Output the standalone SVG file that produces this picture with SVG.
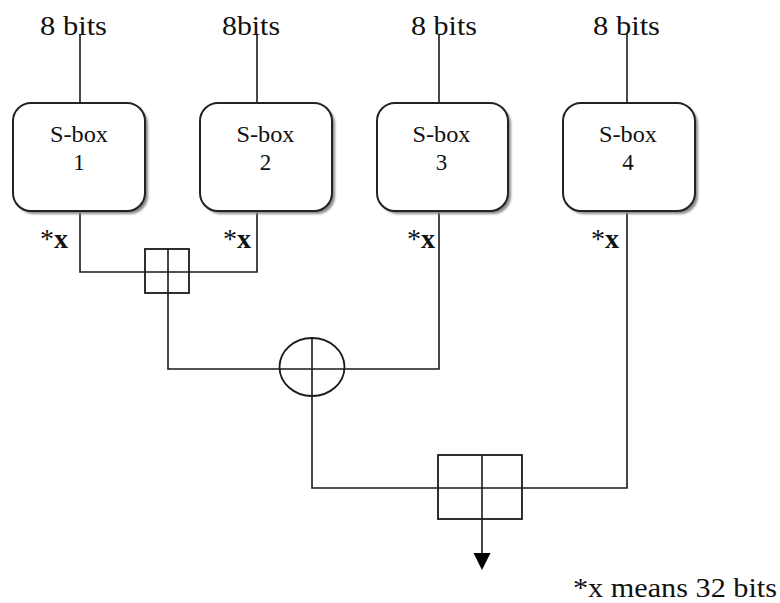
<svg xmlns="http://www.w3.org/2000/svg" width="780" height="603" viewBox="0 0 780 603">
  <defs>
    <style>
      text { font-family: 'Liberation Serif', serif; fill: #111; }
      .bits { font-size: 27px; }
      .sb { font-size: 23px; text-anchor: middle; }
      .star { font-size: 28px; }
      .wire { stroke: #1a1a1a; stroke-width: 1.6; fill: none; }
      .box { fill: #fff; stroke: #222; stroke-width: 2; }
      .shadow { fill: #8a8a8a; }
      .op { fill: none; stroke: #1a1a1a; stroke-width: 1.8; }
    </style>
    <filter id="soft" x="-10%" y="-10%" width="130%" height="130%">
      <feGaussianBlur stdDeviation="1"/>
    </filter>
  </defs>

  <rect width="780" height="603" fill="#fff"/>

  <!-- connectors -->
  <g id="connectors">
    <!-- inputs -->
    <line class="wire" x1="80" y1="34" x2="80" y2="103"/>
    <line class="wire" x1="257" y1="34" x2="257" y2="103"/>
    <line class="wire" x1="439" y1="34" x2="439" y2="103"/>
    <line class="wire" x1="627" y1="34" x2="627" y2="103"/>
    <!-- S-box 1 and 2 to first adder -->
    <polyline class="wire" points="80,211 80,272 257,272 257,211"/>
    <!-- adder 1 to XOR, S-box 3 to XOR -->
    <polyline class="wire" points="168,248 168,369 439,369 439,211"/>
    <!-- XOR to second adder, S-box 4 to second adder -->
    <polyline class="wire" points="312,337 312,488 627,488 627,211"/>
    <!-- output -->
    <line class="wire" x1="482" y1="455" x2="482" y2="555"/>
    <path d="M473.5,553 L490.5,553 L482,570 Z" fill="#000"/>
  </g>

  <!-- S-boxes -->
  <g id="sbox1">
    <rect class="shadow" x="16" y="106" width="132" height="108" rx="18" filter="url(#soft)"/>
    <rect class="box" x="13" y="103" width="132" height="108" rx="18"/>
    <text class="sb" x="79" y="142" font-family="Liberation Serif" textLength="58" lengthAdjust="spacingAndGlyphs">S-box</text>
    <text class="sb" x="79" y="170" font-family="Liberation Serif">1</text>
  </g>
  <g id="sbox2">
    <rect class="shadow" x="203" y="106" width="132" height="108" rx="18" filter="url(#soft)"/>
    <rect class="box" x="200" y="103" width="132" height="108" rx="18"/>
    <text class="sb" x="265.5" y="142" font-family="Liberation Serif" textLength="58" lengthAdjust="spacingAndGlyphs">S-box</text>
    <text class="sb" x="265.5" y="170" font-family="Liberation Serif">2</text>
  </g>
  <g id="sbox3">
    <rect class="shadow" x="380" y="106" width="131" height="108" rx="18" filter="url(#soft)"/>
    <rect class="box" x="377" y="103" width="131" height="108" rx="18"/>
    <text class="sb" x="441.5" y="142" font-family="Liberation Serif" textLength="58" lengthAdjust="spacingAndGlyphs">S-box</text>
    <text class="sb" x="441.5" y="170" font-family="Liberation Serif">3</text>
  </g>
  <g id="sbox4">
    <rect class="shadow" x="566" y="106" width="132" height="108" rx="18" filter="url(#soft)"/>
    <rect class="box" x="563" y="103" width="132" height="108" rx="18"/>
    <text class="sb" x="628" y="142" font-family="Liberation Serif" textLength="58" lengthAdjust="spacingAndGlyphs">S-box</text>
    <text class="sb" x="628" y="170" font-family="Liberation Serif">4</text>
  </g>

  <!-- input labels -->
  <g id="inputs">
    <text class="bits" x="40" y="35" font-family="Liberation Serif" textLength="67" lengthAdjust="spacingAndGlyphs">8 bits</text>
    <text class="bits" x="222" y="35" font-family="Liberation Serif" textLength="58" lengthAdjust="spacingAndGlyphs">8bits</text>
    <text class="bits" x="411" y="35" font-family="Liberation Serif" textLength="66" lengthAdjust="spacingAndGlyphs">8 bits</text>
    <text class="bits" x="593" y="35" font-family="Liberation Serif" textLength="67" lengthAdjust="spacingAndGlyphs">8 bits</text>
  </g>

  <!-- output width labels -->
  <g id="widths">
    <text class="star" x="40" y="248" font-family="Liberation Serif">*<tspan font-weight="bold">x</tspan></text>
    <text class="star" x="223" y="248" font-family="Liberation Serif">*<tspan font-weight="bold">x</tspan></text>
    <text class="star" x="407" y="248" font-family="Liberation Serif">*<tspan font-weight="bold">x</tspan></text>
    <text class="star" x="591" y="248" font-family="Liberation Serif">*<tspan font-weight="bold">x</tspan></text>
  </g>

  <!-- modular adder 1 -->
  <g id="add1">
    <rect class="op" x="145" y="249" width="44" height="44"/>
  </g>

  <!-- XOR -->
  <g id="xor">
    <ellipse class="op" cx="312" cy="367" rx="32.5" ry="29"/>
  </g>

  <!-- modular adder 2 -->
  <g id="add2">
    <rect class="op" x="438" y="455" width="84" height="64"/>
  </g>

  <text id="note" class="bits" x="573" y="597" font-family="Liberation Serif" textLength="204" lengthAdjust="spacingAndGlyphs">*x means 32 bits</text>
</svg>
